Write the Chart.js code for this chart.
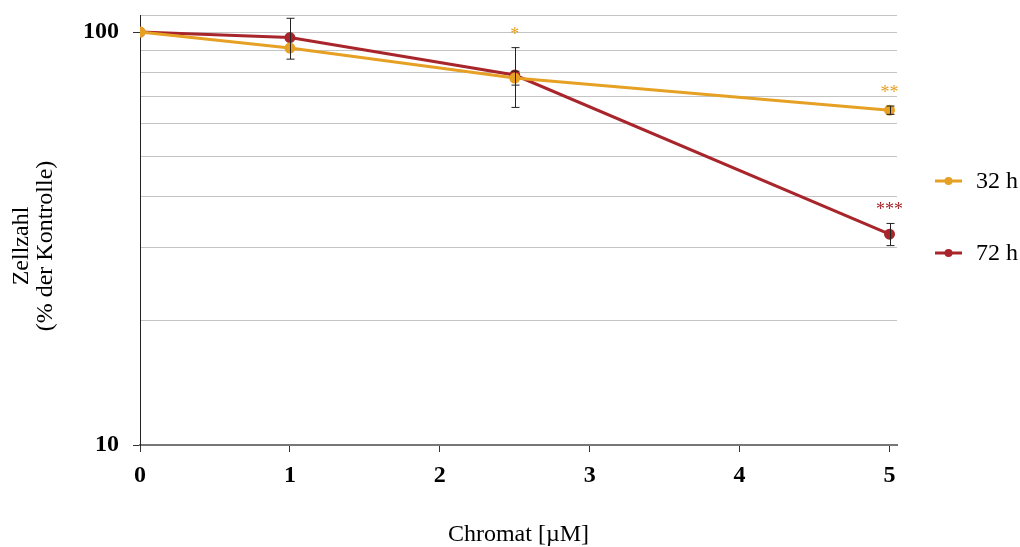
<!DOCTYPE html>
<html>
<head>
<meta charset="utf-8">
<script src="https://cdn.jsdelivr.net/npm/chart.js@4"></script>
<style>
  html, body { margin: 0; padding: 0; background: #fff; }
  #wrap { width: 1020px; height: 547px; }
</style>
</head>
<body>
<div id="wrap"><canvas id="chart"></canvas></div>
<script>
// data
const doses = [0, 1, 2.5, 5];
const mean32 = [100, 91.5, 77.4, 64.7];
const mean72 = [100, 97, 78.7, 32.4];
const sd32 = [0, 0, 3, 1.5];
const sd72 = [0, 11, 13, 2];
const sig32 = ['', '', '*', '**'];
const sig72 = ['', '', '', '***'];
const yTicks = [10, 20, 30, 40, 50, 60, 70, 80, 90, 100, 110];
const xTicks = [0, 1, 2, 3, 4, 5];

const orange = '#E6A023';
const red = '#A8252B';
const serif = "'Liberation Serif', 'Times New Roman', serif";

function points(means) {
    return doses.map((d, i) => ({ x: d, y: means[i] }));
}

// error bars, significance stars, legend and y title
const extras = {
    id: 'extras',
    afterDatasetsDraw(chart) {
        const ctx = chart.ctx;
        const xs = chart.scales.x, ys = chart.scales.y;
        const sets = chart.data.datasets;

        ctx.save();
        ctx.strokeStyle = '#222';
        ctx.lineWidth = 1;
        sets.forEach(ds => {
            ds.data.forEach((p, i) => {
                const sd = ds.sd[i];
                if (!sd) return;
                const px = Math.round(xs.getPixelForValue(p.x)) + 0.5;
                const top = ys.getPixelForValue(p.y + sd);
                const bot = ys.getPixelForValue(p.y - sd);
                ctx.beginPath();
                ctx.moveTo(px, top); ctx.lineTo(px, bot);
                ctx.moveTo(px - 4, top); ctx.lineTo(px + 4, top);
                ctx.moveTo(px - 4, bot); ctx.lineTo(px + 4, bot);
                ctx.stroke();
            });
        });

        // stars above the highest overlapping error bar
        ctx.font = '18px ' + serif;
        ctx.textAlign = 'center';
        ctx.textBaseline = 'alphabetic';
        sets.forEach(ds => {
            ds.data.forEach((p, i) => {
                const s = ds.sig[i];
                if (!s) return;
                const lo = p.y - ds.sd[i];
                let hi = p.y + ds.sd[i];
                sets.forEach(o => {
                    const q = o.data[i];
                    const oLo = q.y - o.sd[i], oHi = q.y + o.sd[i];
                    if (oHi >= lo && oLo <= hi) hi = Math.max(hi, oHi);
                });
                const px = xs.getPixelForValue(p.x);
                ctx.fillStyle = ds.borderColor;
                ctx.fillText(s, px, ys.getPixelForValue(hi) - 8);
            });
        });
        ctx.restore();
    },
    afterDraw(chart) {
        const ctx = chart.ctx;
        const sets = chart.data.datasets;
        const legendY = [181, 253];
        ctx.save();
        sets.forEach((ds, i) => {
            const y = legendY[i];
            ctx.strokeStyle = ds.borderColor;
            ctx.lineWidth = 3;
            ctx.beginPath();
            ctx.moveTo(935, y); ctx.lineTo(962, y);
            ctx.stroke();
            ctx.fillStyle = ds.borderColor;
            ctx.beginPath();
            ctx.arc(948.5, y, 4, 0, Math.PI * 2);
            ctx.fill();
            ctx.fillStyle = '#000';
            ctx.font = '24px ' + serif;
            ctx.textAlign = 'left';
            ctx.textBaseline = 'middle';
            ctx.fillText(ds.label, 976, y + 1);
        });

        // y axis title, two lines
        ctx.translate(34, 246);
        ctx.rotate(-Math.PI / 2);
        ctx.fillStyle = '#000';
        ctx.font = '24px ' + serif;
        ctx.textAlign = 'center';
        ctx.textBaseline = 'middle';
        ctx.fillText('Zellzahl', 0, -12);
        ctx.fillText('(% der Kontrolle)', 0, 12);
        ctx.restore();
    }
};

new Chart(document.getElementById('chart'), {
    type: 'line',
    data: {
        datasets: [
            {
                label: '32 h',
                data: points(mean32),
                sd: sd32,
                sig: sig32,
                borderColor: orange,
                backgroundColor: orange,
                borderWidth: 3,
                pointRadius: 4,
                pointHoverRadius: 4,
                tension: 0
            },
            {
                label: '72 h',
                data: points(mean72),
                sd: sd72,
                sig: sig72,
                borderColor: red,
                backgroundColor: red,
                borderWidth: 3,
                pointRadius: 4,
                pointHoverRadius: 4,
                tension: 0
            }
        ]
    },
    options: {
        responsive: true,
        maintainAspectRatio: false,
        animation: false,
        layout: { padding: { top: 15, right: 123, left: 0, bottom: 0 } },
        plugins: {
            legend: { display: false },
            tooltip: { enabled: false }
        },
        scales: {
            x: {
                type: 'linear',
                min: 0,
                max: 5.05,
                afterBuildTicks(scale) {
                    scale.ticks = xTicks.map(v => ({ value: v }));
                },
                afterFit(scale) {
                    scale.height = 102;
                    scale.paddingLeft = 0;
                    scale.paddingRight = 0;
                },
                grid: {
                    drawOnChartArea: false,
                    drawTicks: true,
                    tickLength: 7,
                    tickColor: '#333'
                },
                border: { display: true, color: '#777', width: 2 },
                ticks: {
                    padding: 9,
                    color: '#000',
                    font: { family: serif, size: 24, weight: 'bold' }
                },
                title: {
                    display: true,
                    text: 'Chromat [µM]',
                    color: '#000',
                    font: { family: serif, size: 24, lineHeight: 1 },
                    padding: { top: 0, bottom: 0 }
                }
            },
            y: {
                type: 'logarithmic',
                min: 10,
                max: 110,
                afterBuildTicks(scale) {
                    scale.ticks = yTicks.map(v => ({ value: v }));
                },
                afterFit(scale) {
                    scale.width = 140;
                    scale.paddingTop = 0;
                    scale.paddingBottom = 0;
                },
                grid: {
                    color: ctx => (ctx.tick && ctx.tick.value === 10) ? 'rgba(0,0,0,0)' : '#c4c4c4',
                    tickColor: ctx => (ctx.tick && (ctx.tick.value === 10 || ctx.tick.value === 100)) ? '#333' : 'rgba(0,0,0,0)',
                    tickLength: 7,
                    lineWidth: 1
                },
                border: { display: true, color: '#222', width: 1 },
                ticks: {
                    padding: 14,
                    color: '#000',
                    font: { family: serif, size: 24, weight: 'bold' },
                    callback: v => (v === 10 || v === 100) ? String(v) : ''
                }
            }
        }
    },
    plugins: [extras]
});
</script>
</body>
</html>
